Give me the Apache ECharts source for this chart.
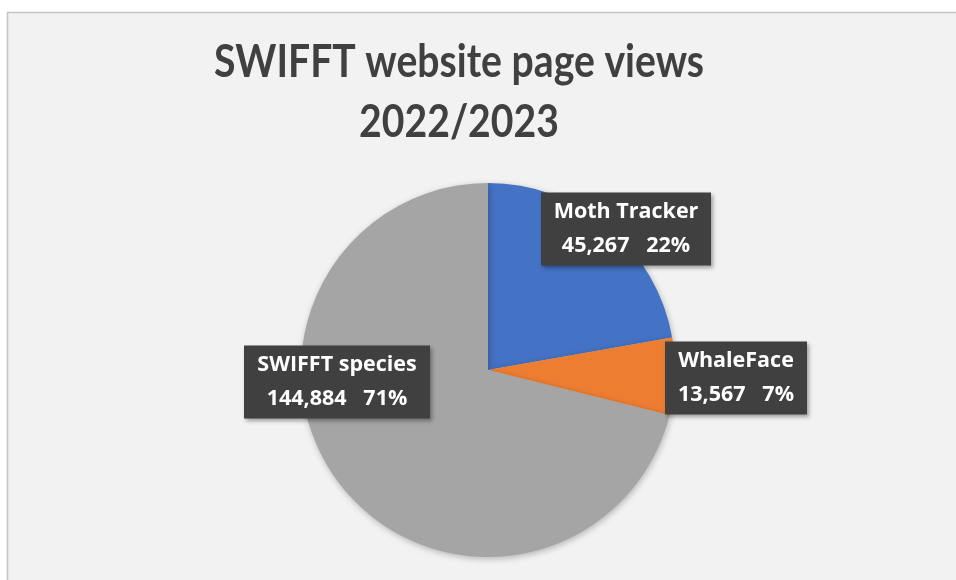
<!DOCTYPE html>
<html><head><meta charset="utf-8">
<script src="https://cdn.jsdelivr.net/npm/echarts@6/dist/echarts.min.js"></script>
<style>html,body{margin:0;padding:0;background:#fff}#c{width:956px;height:580px}</style>
</head><body><div id="c"></div>
<script>
const titleLines = ['SWIFFT website page views', '2022/2023'];
const categories = ['Moth Tracker', 'WhaleFace', 'SWIFFT species'];
const pageViews = [45267, 13567, 144884];
const sliceColors = ['#4472C4', '#ED7D31', '#A5A5A5'];
const labelCenters = [[626, 229], [736, 378], [337, 382]];
const labelWidths = [150, 122, 166];

const chart = echarts.init(document.getElementById('c'), null, {renderer: 'canvas'});
const fmt = n => n.toLocaleString('en-US');
const titleStyle = {fontFamily: 'Lato', fontWeight: 'bold', fontSize: 45, fill: '#404040', align: 'center', verticalAlign: 'top'};
chart.setOption({
  animation: false,
  backgroundColor: '#ffffff',
  graphic: [{
    type: 'rect', z: -10, silent: true,
    shape: {x: 7.5, y: 12.5, width: 1000, height: 1000},
    style: {fill: '#f2f2f2', stroke: '#c4c4c4', lineWidth: 1.5}
  }].concat(titleLines.map((t, i) => ({
    type: 'text', silent: true, x: 459, y: 40 + i * 60, scaleX: 0.87,
    style: Object.assign({text: t}, titleStyle)
  }))),
  series: [{
    type: 'pie',
    center: [488, 370],
    radius: 187,
    startAngle: 90,
    clockwise: true,
    data: categories.map((c, i) => ({name: c, value: pageViews[i], itemStyle: {color: sliceColors[i]},
      label: {width: labelWidths[i]}})),
    itemStyle: {shadowBlur: 6, shadowColor: 'rgba(0,0,0,0.25)', shadowOffsetX: 1, shadowOffsetY: 2},
    label: {
      show: true,
      position: 'inside',
      formatter: p => p.name + '\n' + fmt(p.value) + '   ' + Math.round(p.percent) + '%',
      fontFamily: 'Open Sans', fontWeight: 'bold', fontSize: 21.5, lineHeight: 34,
      color: '#ffffff', align: 'center',
      backgroundColor: '#404040',
      padding: [3, 10, 2, 10],
      shadowColor: 'rgba(0,0,0,0.35)', shadowBlur: 4, shadowOffsetX: 2, shadowOffsetY: 2
    },
    labelLine: {show: false},
    labelLayout: p => ({x: labelCenters[p.dataIndex][0], y: labelCenters[p.dataIndex][1], align: 'center', verticalAlign: 'middle'})
  }]
});
</script></body></html>
